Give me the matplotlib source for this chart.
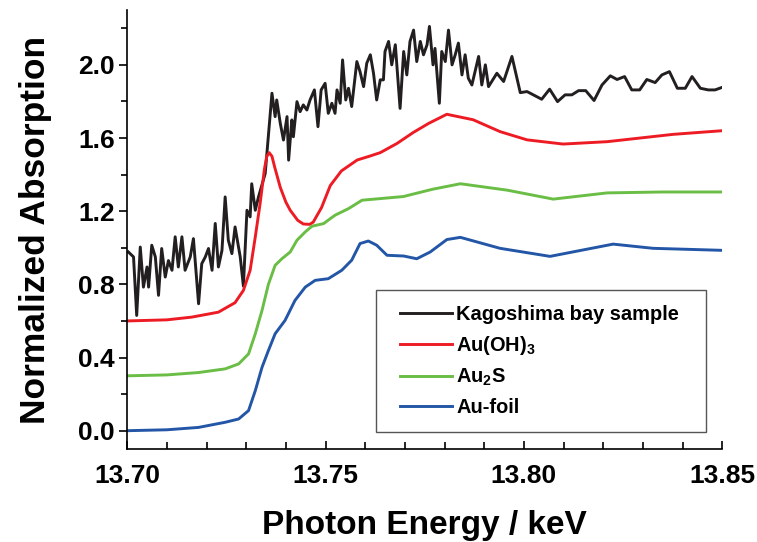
import matplotlib
matplotlib.use("Agg")
import matplotlib.pyplot as plt
from matplotlib.patches import Rectangle
from matplotlib.ticker import MultipleLocator, FormatStrFormatter

plt.rcParams['font.family'] = ['Liberation Sans', 'DejaVu Sans']
plt.rcParams['font.weight'] = 'bold'
plt.rcParams['mathtext.fontset'] = 'custom'
plt.rcParams['mathtext.bf'] = 'Liberation Sans:bold'
plt.rcParams['mathtext.rm'] = 'Liberation Sans:bold'
plt.rcParams['mathtext.default'] = 'bf'

# --- data (energy in keV, normalized absorption) ---
sample_e = [13.7003, 13.7016, 13.7024, 13.7033, 13.7041, 13.7050, 13.7054, 13.7062,
            13.7071, 13.7079, 13.7087, 13.7096, 13.7104, 13.7113, 13.7121, 13.7129,
            13.7138, 13.7146, 13.7159, 13.7167, 13.7180, 13.7188, 13.7197, 13.7205,
            13.7214, 13.7222, 13.7230, 13.7239, 13.7247, 13.7255, 13.7264, 13.7272,
            13.7285, 13.7293, 13.7302, 13.7310, 13.7314, 13.7323, 13.7331, 13.7348,
            13.7365, 13.7373, 13.7377, 13.7386, 13.7394, 13.7403, 13.7407, 13.7415,
            13.7419, 13.7428, 13.7436, 13.7444, 13.7453, 13.7461, 13.7472, 13.7481,
            13.7489, 13.7499, 13.7507, 13.7516, 13.7524, 13.7529, 13.7537, 13.7543,
            13.7551, 13.7558, 13.7566, 13.7579, 13.7587, 13.7596, 13.7604, 13.7613,
            13.7621, 13.7629, 13.7638, 13.7646, 13.7650, 13.7659, 13.7667, 13.7676,
            13.7688, 13.7697, 13.7705, 13.7713, 13.7722, 13.7730, 13.7739, 13.7747,
            13.7756, 13.7762, 13.7771, 13.7776, 13.7787, 13.7793, 13.7802, 13.7810,
            13.7819, 13.7827, 13.7835, 13.7844, 13.7852, 13.7860, 13.7869, 13.7877,
            13.7886, 13.7894, 13.7903, 13.7911, 13.7919, 13.7932, 13.7949, 13.7970,
            13.7991, 13.8008, 13.8024, 13.8045, 13.8065, 13.8085, 13.8104, 13.8121,
            13.8138, 13.8156, 13.8177, 13.8197, 13.8218, 13.8235, 13.8254, 13.8272,
            13.8292, 13.8310, 13.8331, 13.8348, 13.8367, 13.8387, 13.8407, 13.8424,
            13.8445, 13.8465, 13.8482, 13.8500]
sample_y = [0.977, 0.95, 0.63, 1.004, 0.785, 0.895, 0.785, 1.014,
            0.95, 0.74, 0.996, 0.84, 0.93, 0.877, 1.06, 0.895,
            1.06, 0.877, 0.95, 1.05, 0.694, 0.913, 0.95, 0.996,
            0.877, 1.133, 0.895, 0.986, 1.278, 1.041, 0.968, 1.114,
            0.95, 0.79, 1.205, 1.169, 1.35, 1.205, 1.278, 1.406,
            1.845, 1.717, 1.808, 1.68, 1.589, 1.717, 1.479, 1.699,
            1.607, 1.799, 1.744, 1.781, 1.753, 1.808, 1.863, 1.662,
            1.863, 1.899, 1.735, 1.79, 1.735, 1.863, 1.79, 2.027,
            1.808, 1.872, 1.772, 2.018, 1.963, 1.881, 2.009, 2.055,
            1.954, 1.808, 1.918, 1.918, 2.073, 2.128, 2.0, 2.11,
            1.762, 2.073, 1.945, 2.128, 2.19, 2.018, 2.128, 2.055,
            2.11, 2.21, 2.0, 2.09, 1.79, 2.073, 2.018, 2.19,
            2.0, 2.055, 2.119, 1.945, 2.055, 1.927, 1.89, 1.963,
            2.046, 1.89, 2.0, 1.881, 1.909, 1.954, 1.909, 2.046,
            1.848, 1.854, 1.836, 1.812, 1.867, 1.799, 1.836, 1.836,
            1.859, 1.859, 1.805, 1.89, 1.94, 1.92, 1.936, 1.863,
            1.863, 1.92, 1.903, 1.945, 1.963, 1.872, 1.872, 1.936,
            1.872, 1.863, 1.863, 1.877]

auoh_e = [13.700, 13.710, 13.7163, 13.7230, 13.7272, 13.7293, 13.7310, 13.7323,
          13.7335, 13.7346, 13.7352, 13.7358, 13.7365, 13.7372, 13.7386, 13.7400,
          13.7411, 13.7430, 13.7444, 13.7460, 13.7469, 13.7490, 13.7512, 13.7540,
          13.7580, 13.7610, 13.7638, 13.7680, 13.7721, 13.7760, 13.7806, 13.7814,
          13.7872, 13.7940, 13.8008, 13.8099, 13.8210, 13.8376, 13.8500]
auoh_y = [0.600, 0.606, 0.621, 0.648, 0.700, 0.767, 0.877, 1.060,
          1.240, 1.430, 1.500, 1.520, 1.500, 1.440, 1.330, 1.250,
          1.205, 1.150, 1.130, 1.128, 1.140, 1.220, 1.340, 1.420,
          1.480, 1.500, 1.520, 1.570, 1.630, 1.680, 1.730, 1.726,
          1.700, 1.635, 1.590, 1.567, 1.580, 1.620, 1.640]

au2s_e = [13.700, 13.710, 13.718, 13.7247, 13.7281, 13.7306, 13.7323, 13.7340,
          13.7356, 13.7373, 13.7390, 13.7411, 13.7428, 13.7449, 13.7466, 13.7495,
          13.7524, 13.7558, 13.7592, 13.7696, 13.7770, 13.7840, 13.7958, 13.8074,
          13.8210, 13.8350, 13.8500]
au2s_y = [0.300, 0.305, 0.318, 0.338, 0.365, 0.420, 0.530, 0.658,
          0.800, 0.904, 0.940, 0.977, 1.041, 1.087, 1.118, 1.132,
          1.178, 1.214, 1.260, 1.280, 1.320, 1.350, 1.315, 1.266,
          1.300, 1.305, 1.305]

foil_e = [13.700, 13.710, 13.718, 13.7247, 13.7281, 13.7306, 13.7323, 13.7340,
          13.7356, 13.7373, 13.7398, 13.7423, 13.7449, 13.7474, 13.7507, 13.7541,
          13.7566, 13.7587, 13.7608, 13.7629, 13.7655, 13.7697, 13.7730, 13.7764,
          13.7806, 13.7840, 13.7940, 13.8066, 13.8225, 13.8326, 13.8500]
foil_y = [0.000, 0.005, 0.018, 0.046, 0.064, 0.110, 0.219, 0.347,
          0.438, 0.530, 0.603, 0.712, 0.785, 0.822, 0.831, 0.877,
          0.932, 1.023, 1.037, 1.014, 0.959, 0.955, 0.940, 0.977,
          1.045, 1.057, 0.997, 0.953, 1.020, 0.997, 0.986]

fig = plt.figure(figsize=(7.57, 5.42), dpi=100)
ax = fig.add_axes([0.168, 0.1716, 0.786, 0.81])

lw = 2.1
ax.plot(sample_e, sample_y, color='#231f20', lw=lw, label='Kagoshima bay sample')
ax.plot(auoh_e, auoh_y, color='#ed1c24', lw=lw, label=r'Au(OH)$_3$')
ax.plot(au2s_e, au2s_y, color='#6abd45', lw=lw, label=r'Au$_2$S')
ax.plot(foil_e, foil_y, color='#2356a6', lw=lw, label='Au-foil')

ax.set_xlim(13.70, 13.85)
ax.set_ylim(-0.1, 2.3)

ax.spines['top'].set_visible(False)
ax.spines['right'].set_visible(False)
for s in ('left', 'bottom'):
    ax.spines[s].set_linewidth(1.2)

ax.xaxis.set_major_locator(MultipleLocator(0.05))
ax.xaxis.set_minor_locator(MultipleLocator(0.01))
ax.xaxis.set_major_formatter(FormatStrFormatter('%.2f'))
ax.yaxis.set_major_locator(MultipleLocator(0.4))
ax.yaxis.set_minor_locator(MultipleLocator(0.2))
ax.yaxis.set_major_formatter(FormatStrFormatter('%.1f'))

ax.tick_params(axis='x', which='major', direction='in', length=6, width=1.2, labelsize=19, pad=11)
ax.tick_params(axis='x', which='minor', direction='in', length=5, width=1.2)
ax.tick_params(axis='y', which='major', direction='out', length=6, width=1.2, labelsize=19, pad=3)
ax.tick_params(axis='y', which='minor', direction='out', length=4, width=1.2)
for lab in ax.get_xticklabels() + ax.get_yticklabels():
    lab.set_fontweight('bold')

ax.set_xlabel('Photon Energy / keV', fontsize=24, fontweight='bold', labelpad=16)
ax.set_ylabel('Normalized Absorption', fontsize=25.5, fontweight='bold', labelpad=19)

# legend: frameless entries, with a plain box drawn around them
leg = ax.legend(loc='upper left', bbox_to_anchor=(0.459, 0.329), frameon=False,
                handlelength=2.6, prop={'weight': 'bold', 'size': 14.4},
                labelspacing=0.5, borderpad=0, handletextpad=0.2, borderaxespad=0)
ax.add_patch(Rectangle((0.4185, 0.0387), 0.5546, 0.3235, transform=ax.transAxes,
                       fill=False, edgecolor='#555555', lw=1.0, zorder=5))

fig.savefig('out.png', dpi=100)
